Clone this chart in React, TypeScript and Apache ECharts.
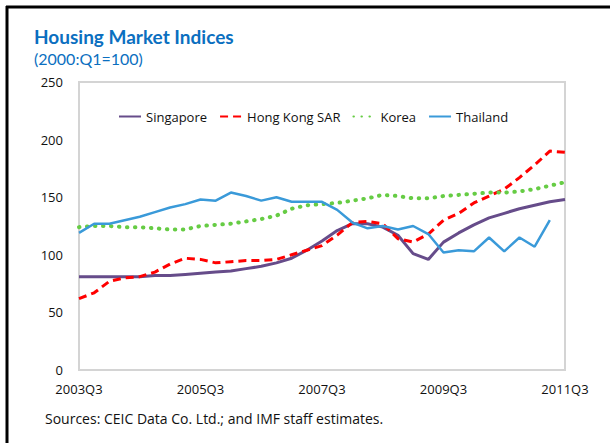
import React, { useEffect, useRef } from "react";
import * as echarts from "echarts";

const quarters = [
  "2003Q3", "2003Q4", "2004Q1", "2004Q2", "2004Q3", "2004Q4", "2005Q1", "2005Q2",
  "2005Q3", "2005Q4", "2006Q1", "2006Q2", "2006Q3", "2006Q4", "2007Q1", "2007Q2",
  "2007Q3", "2007Q4", "2008Q1", "2008Q2", "2008Q3", "2008Q4", "2009Q1", "2009Q2",
  "2009Q3", "2009Q4", "2010Q1", "2010Q2", "2010Q3", "2010Q4", "2011Q1", "2011Q2",
  "2011Q3",
];

const singapore = [
  81, 81, 81, 81, 81, 82, 82, 83, 84, 85, 86, 88, 90, 93, 97, 104,
  112, 121, 127, 127, 124, 117, 101, 96, 111, 119, 126, 132, 136, 140, 143, 146, 148,
];
const hongKong = [
  62, 67, 77, 80, 81, 85, 92, 97, 96, 93, 94, 95, 95, 96, 100, 104,
  108, 117, 128, 129, 127, 114, 111, 118, 130, 136, 145, 151, 157, 167, 178, 190, 189,
];
const korea = [
  124, 125, 125, 124, 124, 123, 122, 122, 125, 126, 127, 129, 131, 134, 140, 143,
  144, 145, 147, 149, 152, 151, 149, 149, 151, 152, 153, 154, 154, 155, 157, 160, 163,
];
const thailand = [
  119, 127, 127, 130, 133, 137, 141, 144, 148, 147, 154, 151, 147, 150, 146, 146,
  146, 139, 128, 123, 125, 122, 125, 118, 102, 104, 103, 115, 103, 115, 107, 130, null,
];

const yTicks = { min: 0, max: 250, interval: 50 };

const TITLE_FONT = "Lato, 'Open Sans', sans-serif";
const FONT = "'Open Sans', Lato, sans-serif";

export default function App() {
  const ref = useRef<HTMLDivElement>(null);
  useEffect(() => {
    if (!ref.current) return;
    const chart = echarts.init(ref.current, undefined, { renderer: "svg" });
    chart.setOption({
      animation: false,
      backgroundColor: "#ffffff",
      textStyle: { fontFamily: FONT },
      title: [
        {
          text: "Housing Market Indices",
          left: 29,
          top: 22,
          textStyle: { color: "#0b6fc0", fontSize: 19, fontWeight: "bold", fontFamily: TITLE_FONT },
        },
        {
          text: "(2000:Q1=100)",
          left: 29,
          top: 45,
          textStyle: { color: "#0b6fc0", fontSize: 16, fontWeight: "normal", fontFamily: TITLE_FONT },
        },
        {
          text: "Sources: CEIC Data Co. Ltd.; and IMF staff estimates.",
          left: 40,
          top: 406,
          textStyle: { color: "#111", fontSize: 14, fontWeight: "normal", fontFamily: FONT },
        },
      ],
      legend: {
        left: 113,
        top: 105,
        itemWidth: 22,
        itemHeight: 14,
        itemGap: 12,
        itemStyle: { opacity: 0 },
        textStyle: { color: "#111", fontSize: 13, fontFamily: FONT },
        data: ["Singapore", "Hong Kong SAR", "Korea", "Thailand"],
      },
      grid: {
        left: 79,
        right: 45,
        top: 82,
        bottom: 73,
        show: true,
        borderColor: "#d4d4d4",
        borderWidth: 2,
        backgroundColor: "transparent",
      },
      xAxis: {
        type: "category",
        data: quarters,
        boundaryGap: false,
        axisLine: { show: false },
        axisTick: { show: false },
        splitLine: { show: false },
        axisLabel: { interval: 7, color: "#111", fontSize: 13, margin: 12, fontFamily: FONT },
      },
      yAxis: {
        type: "value",
        min: yTicks.min,
        max: yTicks.max,
        interval: yTicks.interval,
        axisLine: { show: false },
        axisTick: { show: false },
        splitLine: { show: false },
        axisLabel: { color: "#111", fontSize: 13, margin: 16, fontFamily: FONT },
      },
      series: [
        {
          name: "Singapore",
          type: "line",
          data: singapore,
          showSymbol: false,
          symbol: "none",
          lineStyle: { color: "#664c8a", width: 3 },
          itemStyle: { color: "#664c8a" },
        },
        {
          name: "Hong Kong SAR",
          type: "line",
          data: hongKong,
          showSymbol: false,
          symbol: "none",
          lineStyle: { color: "#ff0000", width: 3, type: [8, 5] },
          itemStyle: { color: "#ff0000" },
        },
        {
          name: "Korea",
          type: "line",
          data: korea,
          showSymbol: false,
          symbol: "none",
          lineStyle: { color: "#66cc44", width: 4, type: [0.5, 7.5], cap: "round" },
          itemStyle: { color: "#66cc44" },
        },
        {
          name: "Thailand",
          type: "line",
          data: thailand,
          showSymbol: false,
          symbol: "none",
          lineStyle: { color: "#3a9ad9", width: 2.5 },
          itemStyle: { color: "#3a9ad9" },
        },
      ],
      graphic: [
        { type: "line", shape: { x1: 6, y1: 7, x2: 610, y2: 7 }, style: { stroke: "#000", lineWidth: 3 } },
        { type: "line", shape: { x1: 7, y1: 6, x2: 7, y2: 443 }, style: { stroke: "#000", lineWidth: 3 } },
      ],
    });
    return () => chart.dispose();
  }, []);
  return (
    <div
      ref={ref}
      style={{ position: "fixed", left: 0, top: 0, width: 610, height: 443 }}
    />
  );
}
